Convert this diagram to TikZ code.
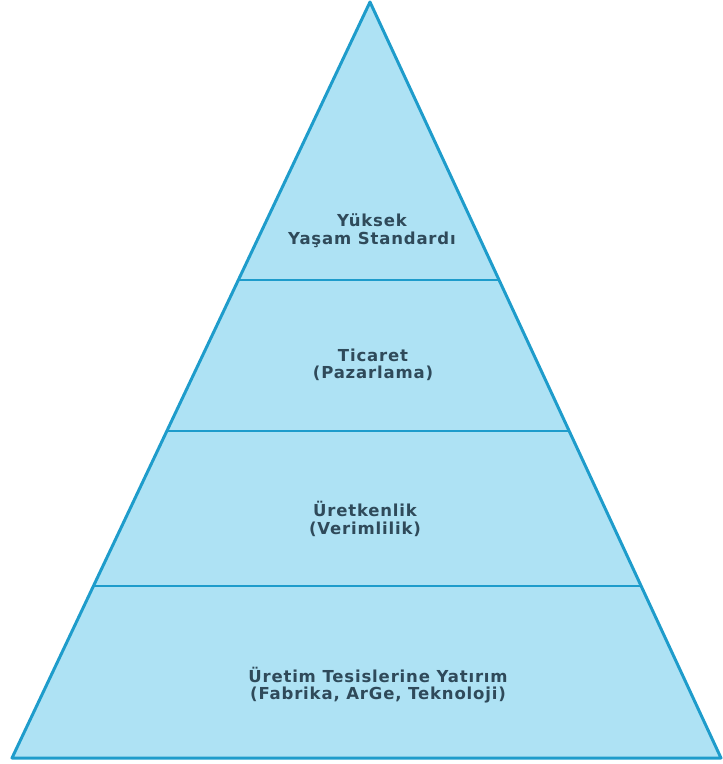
\documentclass[tikz,border=0pt]{standalone}
\usepackage{fontspec}
\setmainfont{DejaVu Sans}
\usetikzlibrary{calc}
\definecolor{pyrfill}{HTML}{AEE2F4}
\definecolor{pyrline}{HTML}{1E9CCB}
\definecolor{pyrtext}{HTML}{2F4A5A}
\tikzset{level/.style={text=pyrtext, align=center,
  font=\fontsize{9.4}{10}\selectfont\bfseries\addfontfeatures{LetterSpace=5}}}
\begin{document}
\begin{tikzpicture}[x=0.02cm,y=-0.02cm]
\useasboundingbox (0,0) rectangle (723,764);
\coordinate (top) at (370,2);
\coordinate (bl) at (12,758);
\coordinate (br) at (721,758);
\fill[pyrfill] (top)--(bl)--(br)--cycle;
\foreach \t in {0.3677,0.5675,0.7725}{
\draw[pyrline, line width=1.6pt] ($(top)!\t!(bl)$) -- ($(top)!\t!(br)$);
}
\draw[pyrline, line width=1.7pt, line join=round] (top)--(bl)--(br)--cycle;
\node[level] (life) at (372,231) {Yüksek\\Yaşam Standardı};
\node[level] (trade) at (373,365) {Ticaret\\(Pazarlama)};
\node[level] (prod) at (365,519) {Üretkenlik\\(Verimlilik)};
\node[level] (invest) at (378,685) {Üretim Tesislerine Yatırım\\(Fabrika, ArGe, Teknoloji)};
\end{tikzpicture}
\end{document}
